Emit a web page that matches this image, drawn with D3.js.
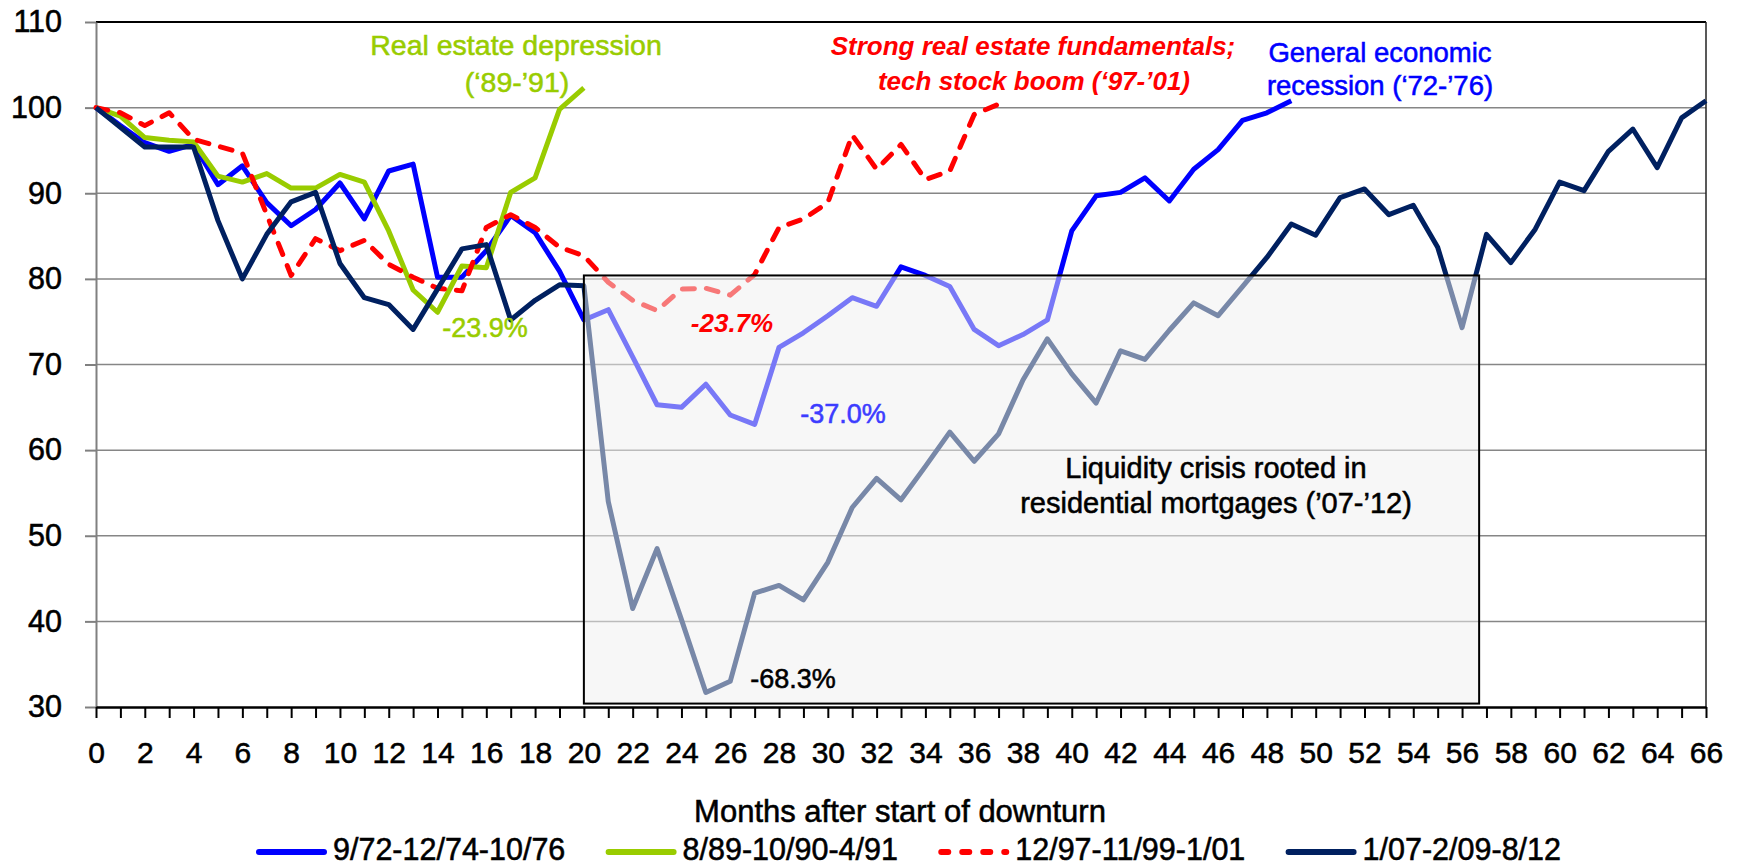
<!DOCTYPE html>
<html>
<head>
<meta charset="utf-8">
<script src="https://cdn.jsdelivr.net/npm/d3@7"></script>
<style>
  body { margin: 0; background: #fff; }
  svg { font-family: "Liberation Sans", Arial, sans-serif; }
</style>
</head>
<body>
<div id="vis"></div>
<script>
// series values, index = months after start of downturn
const s1972 = [100, 97.9, 95.9, 94.9, 95.7, 91.0, 93.2, 88.9, 86.2, 88.1, 91.2, 87.0, 92.6, 93.4, 80.2, 80.2, 83.3, 87.4, 85.4, 80.9,
  75.2, 76.4, 70.9, 65.3, 65.0, 67.7, 64.1, 63.0, 72.0, 73.7, 75.7, 77.8, 76.8, 81.4, 80.4, 79.1, 74.1, 72.2, 73.5, 75.2,
  85.6, 89.7, 90.1, 91.8, 89.1, 92.8, 95.1, 98.5, 99.4, 100.8];
const s1989 = [100, 99.0, 96.5, 96.2, 96.0, 92.0, 91.3, 92.3, 90.6, 90.6, 92.2, 91.3, 85.6, 78.7, 76.1, 81.5, 81.3, 90.1, 91.8, 99.8, 102.3];
const s1997 = [100, 99.4, 97.9, 99.4, 96.3, 95.5, 94.7, 87.5, 80.4, 84.7, 83.3, 84.5, 81.7, 80.2, 78.9, 78.6, 86.0, 87.5, 86.0, 83.7,
  82.7, 79.6, 77.5, 76.3, 78.8, 78.9, 78.1, 80.5, 86.0, 87.0, 88.9, 96.8, 92.8, 95.7, 91.6, 92.6, 99.2, 100.4];
const s2007 = [100, 97.7, 95.4, 95.4, 95.4, 86.8, 80.0, 85.2, 89.0, 90.1, 81.8, 77.8, 77.0, 74.1, 78.8, 83.5, 84.0, 75.2, 77.5, 79.3,
  79.2, 54.0, 41.5, 48.5, 40.2, 31.7, 33.0, 43.3, 44.2, 42.5, 46.9, 53.3, 56.7, 54.2, 58.1, 62.1, 58.7, 61.9, 68.2, 73.0,
  68.9, 65.5, 71.6, 70.6, 74.0, 77.2, 75.7, 79.1, 82.5, 86.4, 85.1, 89.5, 90.5, 87.5, 88.6, 83.7, 74.3, 85.2, 81.9, 85.8,
  91.3, 90.3, 94.9, 97.5, 93.0, 98.8, 100.8];

const seriesNames = ["9/72-12/74-10/76", "8/89-10/90-4/91", "12/97-11/99-1/01", "1/07-2/09-8/12"];
const yTicks = [30, 40, 50, 60, 70, 80, 90, 100, 110];
const xLabels = [0, 2, 4, 6, 8, 10, 12, 14, 16, 18, 20, 22, 24, 26, 28, 30, 32, 34, 36, 38, 40, 42, 44, 46, 48, 50, 52, 54, 56, 58, 60, 62, 64, 66];

// highlighted crisis window (months, index values)
const crisisBox = { x0: 20, x1: 56.7, y0: 30.4, y1: 80.4 };

const series = [
  { name: seriesNames[0], values: s1972, color: "#0000ff", dash: null },
  { name: seriesNames[1], values: s1989, color: "#99cc00", dash: null },
  { name: seriesNames[2], values: s1997, color: "#ff0000", dash: "12,12" },
  { name: seriesNames[3], values: s2007, color: "#002060", dash: null }
];

const W = 1741, H = 867;
const plot = { left: 96, right: 1706, top: 22, bottom: 707 };
const thick = 0.55; // fake heavier glyph rendering

const svg = d3.select("#vis").append("svg")
  .attr("width", W)
  .attr("height", H);

const x = d3.scaleLinear().domain([0, 66]).range([plot.left, plot.right]);
const y = d3.scaleLinear().domain([30, 110]).range([plot.bottom, plot.top]);

// gridlines
svg.append("g")
  .selectAll("line")
  .data(yTicks.filter(d => d > 30 && d < 110))
  .join("line")
  .attr("x1", plot.left).attr("x2", plot.right)
  .attr("y1", d => y(d)).attr("y2", d => y(d))
  .attr("stroke", "#868686")
  .attr("stroke-width", 1.5);

// plot frame top / right
svg.append("line")
  .attr("x1", plot.left).attr("x2", plot.right).attr("y1", y(110)).attr("y2", y(110))
  .attr("stroke", "#000").attr("stroke-width", 2);
svg.append("line")
  .attr("x1", plot.right).attr("x2", plot.right).attr("y1", y(110)).attr("y2", y(30))
  .attr("stroke", "#222").attr("stroke-width", 1.5);

// y axis
const yAxis = svg.append("g")
  .attr("transform", `translate(${plot.left},0)`)
  .call(d3.axisLeft(y).tickValues(yTicks).tickSize(11).tickPadding(23).tickSizeOuter(0));
yAxis.select(".domain").attr("stroke", "#808080").attr("stroke-width", 2);
yAxis.selectAll(".tick line").attr("stroke", "#808080").attr("stroke-width", 2);
yAxis.selectAll(".tick text")
  .attr("font-size", 30.5)
  .attr("fill", "#000")
  .attr("stroke", "#000").attr("stroke-width", thick)
  .attr("font-family", "Liberation Sans, Arial, sans-serif");

// lines
const line = d3.line()
  .x((d, i) => x(i))
  .y(d => y(d));

svg.append("g")
  .selectAll("path")
  .data(series)
  .join("path")
  .attr("d", d => line(d.values))
  .attr("fill", "none")
  .attr("stroke", d => d.color)
  .attr("stroke-width", 5)
  .attr("stroke-linejoin", "round")
  .attr("stroke-linecap", d => d.dash ? "round" : "butt")
  .attr("stroke-dasharray", d => d.dash);

// crisis overlay box
svg.append("rect")
  .attr("x", x(crisisBox.x0))
  .attr("y", y(crisisBox.y1))
  .attr("width", x(crisisBox.x1) - x(crisisBox.x0))
  .attr("height", y(crisisBox.y0) - y(crisisBox.y1))
  .attr("fill", "rgb(239,239,239)")
  .attr("fill-opacity", 0.5)
  .attr("stroke", "#000")
  .attr("stroke-width", 2);

// x axis
const xAxis = svg.append("g")
  .attr("transform", `translate(0,${plot.bottom})`)
  .call(d3.axisBottom(x)
    .tickValues(d3.range(0, 67))
    .tickSize(11)
    .tickPadding(24)
    .tickSizeOuter(0)
    .tickFormat(d => xLabels.includes(d) ? d : ""));
xAxis.select(".domain").attr("stroke", "#000").attr("stroke-width", 2.5);
xAxis.selectAll(".tick line").attr("stroke", "#000").attr("stroke-width", 2);
xAxis.selectAll(".tick text")
  .attr("font-size", 30)
  .attr("fill", "#000")
  .attr("stroke", "#000").attr("stroke-width", thick)
  .attr("font-family", "Liberation Sans, Arial, sans-serif");

// axis title
svg.append("text")
  .attr("x", 900).attr("y", 822)
  .attr("text-anchor", "middle")
  .attr("font-size", 31)
  .attr("stroke", "#000").attr("stroke-width", thick)
  .text("Months after start of downturn");

// annotations
const notes = [
  { t: "Real estate depression", x: 516, y: 55, c: "#99cc00", s: 28.5 },
  { t: "(\u201889-\u201991)", x: 517, y: 92, c: "#99cc00", s: 28.5 },
  { t: "Strong real estate fundamentals;", x: 1033, y: 55, c: "#ff0000", s: 26, b: true, i: true },
  { t: "tech stock boom (\u201897-\u201901)", x: 1034, y: 90, c: "#ff0000", s: 26, b: true, i: true },
  { t: "General economic", x: 1380, y: 62, c: "#0000ff", s: 27.5 },
  { t: "recession (\u201872-\u201976)", x: 1380, y: 95, c: "#0000ff", s: 27.5 },
  { t: "-23.9%", x: 485, y: 337, c: "#99cc00", s: 27 },
  { t: "-23.7%", x: 732, y: 332, c: "#ff0000", s: 26, b: true, i: true },
  { t: "-37.0%", x: 843, y: 423, c: "#3c3cff", s: 27 },
  { t: "-68.3%", x: 793, y: 688, c: "#000", s: 27 },
  { t: "Liquidity crisis rooted in", x: 1216, y: 478, c: "#000", s: 29 },
  { t: "residential mortgages (\u201907-\u201912)", x: 1216, y: 513, c: "#000", s: 29 }
];
svg.append("g")
  .selectAll("text")
  .data(notes)
  .join("text")
  .attr("x", d => d.x).attr("y", d => d.y)
  .attr("text-anchor", "middle")
  .attr("fill", d => d.c)
  .attr("stroke", d => d.b ? "none" : d.c)
  .attr("stroke-width", thick)
  .attr("font-size", d => d.s)
  .attr("font-weight", d => d.b ? "bold" : "normal")
  .attr("font-style", d => d.i ? "italic" : "normal")
  .text(d => d.t);

// legend, spread between the measured ends in the reference
const legend = svg.append("g");
const legendL = 257, legendR = 1561, sampleW = 69, textGap = 7;
const items = series.map(s => {
  const g = legend.append("g");
  g.append("line")
    .attr("x1", 2).attr("x2", sampleW - 2).attr("y1", 852).attr("y2", 852)
    .attr("stroke", s.color).attr("stroke-width", 6)
    .attr("stroke-linecap", "round")
    .attr("stroke-dasharray", s.dash ? "7,14" : null);
  const t = g.append("text")
    .attr("x", sampleW + textGap).attr("y", 860)
    .attr("font-size", 30.5)
    .attr("stroke", "#000").attr("stroke-width", thick)
    .text(s.name);
  return { g, w: sampleW + textGap + t.node().getComputedTextLength() };
});
const gap = (legendR - legendL - d3.sum(items, d => d.w)) / (items.length - 1);
let lx = legendL;
items.forEach(it => {
  it.g.attr("transform", `translate(${lx},0)`);
  lx += it.w + gap;
});
</script>
</body>
</html>
